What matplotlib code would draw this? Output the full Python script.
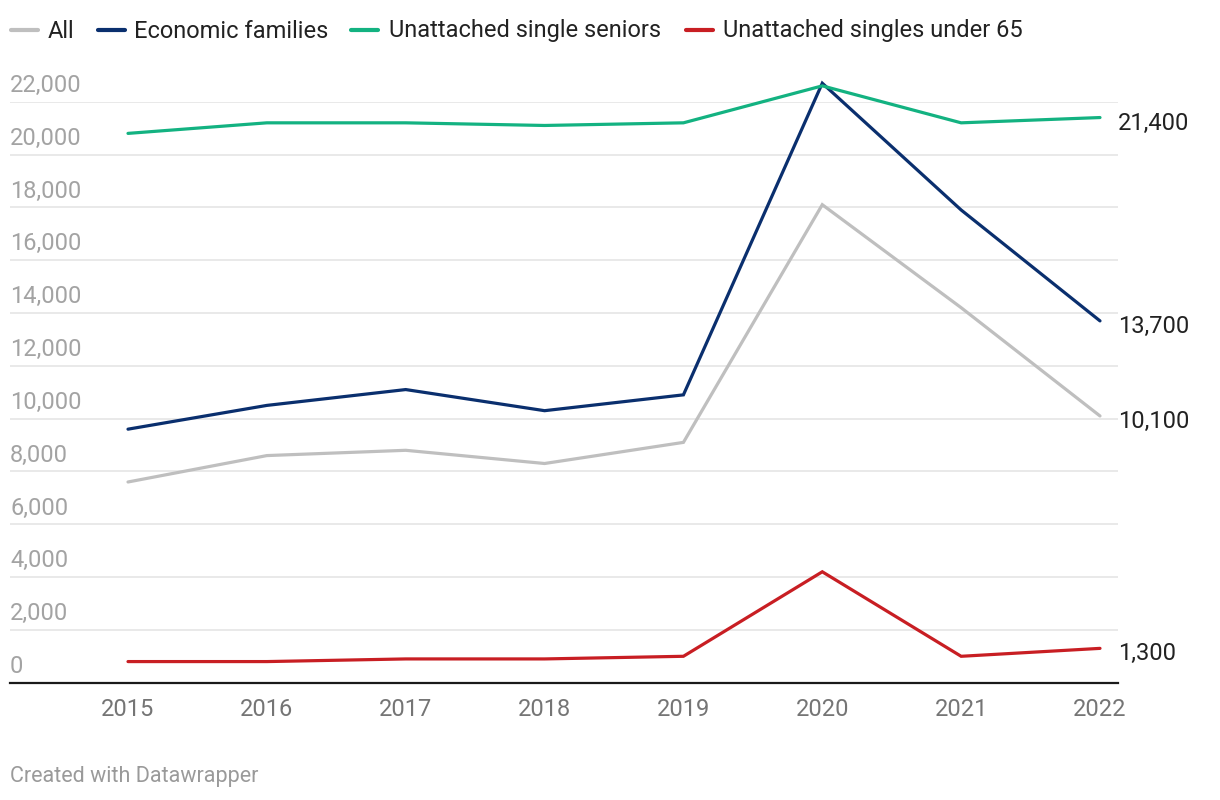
import matplotlib
matplotlib.use('Agg')
import matplotlib.pyplot as plt
from matplotlib.lines import Line2D

plt.rcParams['font.family'] = ['Roboto', 'DejaVu Sans']

years = [2015, 2016, 2017, 2018, 2019, 2020, 2021, 2022]
all_units = [7600, 8600, 8800, 8300, 9100, 18100, 14200, 10100]
economic_families = [9600, 10500, 11100, 10300, 10900, 22700, 17900, 13700]
single_seniors = [20800, 21200, 21200, 21100, 21200, 22600, 21200, 21400]
singles_under_65 = [800, 800, 900, 900, 1000, 4200, 1000, 1300]

series_names = ['All', 'Economic families', 'Unattached single seniors',
                'Unattached singles under 65']
series_values = [all_units, economic_families, single_seniors, singles_under_65]
colors = ['#bfbfbf', '#0a2f6e', '#13b281', '#c81e23']
y_ticks = list(range(0, 22001, 2000))

fig = plt.figure(figsize=(12.2, 8), dpi=100)
ax = fig.add_axes([10 / 1220, (800 - 682.7) / 800, 1108 / 1220, 581 / 800])

for vals, col in zip(series_values, colors):
    ax.plot(years, vals, color=col, lw=2.3, clip_on=False,
            solid_capstyle='round', solid_joinstyle='miter', zorder=3)

# end-of-line value labels (the 2022 values)
for vals in series_values:
    ax.annotate('{:,}'.format(vals[-1]), xy=(years[-1], vals[-1]),
                xytext=(13, -4), textcoords='offset points',
                ha='left', va='center', fontsize=17, color='#222222',
                annotation_clip=False)

ax.set_xlim(2015 - 118 / 138.86, 2022 + 18 / 138.86)
ax.set_ylim(0, 22000)

ax.set_yticks(y_ticks)
ax.set_yticklabels([])
ax.grid(axis='y', color='#e3e3e3', lw=1.1)
ax.set_axisbelow(True)
for v in y_ticks:
    ax.annotate('{:,}'.format(v), xy=(0, v), xycoords=('axes fraction', 'data'),
                xytext=(0, 7), textcoords='offset points',
                ha='left', va='baseline', fontsize=17, color='#a3a3a3')

ax.set_xticks(years)
ax.set_xticklabels([str(y) for y in years])
ax.tick_params(axis='x', length=0, pad=11, labelsize=17, labelcolor='#757575')
ax.tick_params(axis='y', length=0)

for s in ['top', 'right', 'left']:
    ax.spines[s].set_visible(False)
ax.spines['bottom'].set_color('#1a1a1a')
ax.spines['bottom'].set_linewidth(1.6)
ax.spines['bottom'].set_zorder(4)

# legend along the top
legend_pos = [(11, 48), (98, 134), (351, 389), (686, 723)]
for (x0, xt), name, col in zip(legend_pos, series_names, colors):
    fig.add_artist(Line2D([x0 / 1220, (x0 + 27) / 1220], [1 - 30 / 800] * 2,
                          color=col, lw=3, solid_capstyle='round',
                          transform=fig.transFigure))
    fig.text(xt / 1220, 1 - 31 / 800, name, ha='left', va='center',
             fontsize=17, color='#222222')

fig.text(10 / 1220, 1 - 782 / 800, 'Created with Datawrapper', ha='left',
         va='baseline', fontsize=15.5, color='#9a9a9a')

fig.savefig('out.png', dpi=100)
